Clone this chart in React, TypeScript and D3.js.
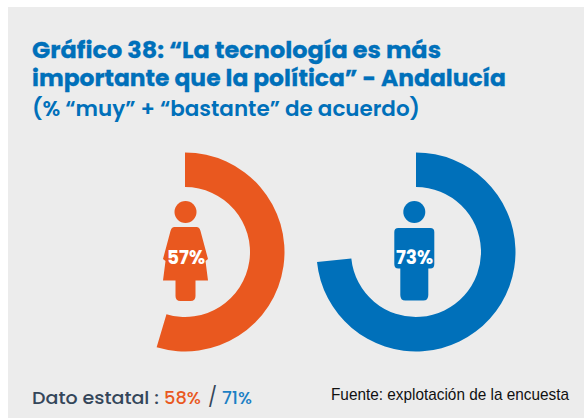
import React from "react";
import * as d3 from "d3";

const titleLines = ["Gráfico 38: “La tecnología es más", "importante que la política” - Andalucía"];
const titleWidths = [409, 474];
const subtitle = "(% “muy” + “bastante” de acuerdo)";
const labels = ["57%", "73%"];
const labelX = [186, 414.5];
const sweeps = [54.6, 73.4];
const colors = ["#E9581F", "#0070BA"];
const centers = [185, 416];
const stateValues = ["58%", "71%"];
const source = "Fuente: explotación de la encuesta";

const W = 584, H = 418;
const pct = d3.scaleLinear().domain([0, 100]).range([0, 2 * Math.PI]);
const arcGen = d3.arc<number>().innerRadius(65).outerRadius(99.5).startAngle(0).endAngle((d) => pct(d));
const FONT = "Poppins, Inter, 'Open Sans', sans-serif";

function Woman({ cx, fill }: { cx: number; fill: string }) {
  return (
    <g transform={`translate(${cx},0)`} fill={fill}>
      <circle cx={0} cy={212} r={11} />
      <path d="M-11,227 H11 Q14,227 15,231 L22.5,259 L20,261 L22.5,280.5 H10 V296 Q10,301 5,301 H-5 Q-10,301 -10,296 V280.5 H-22.5 L-20,261 L-22.5,259 L-15,231 Q-14,227 -11,227 Z" />
    </g>
  );
}

function Man({ cx, fill }: { cx: number; fill: string }) {
  return (
    <g transform={`translate(${cx},0)`} fill={fill}>
      <circle cx={0} cy={212} r={11} />
      <path d="M-16,228 H16 Q20,228 20,232 V264 Q20,268.5 16,268.5 H14 V295 Q14,300.5 9,300.5 H-9 Q-14,300.5 -14,295 V268.5 H-16 Q-20,268.5 -20,264 V232 Q-20,228 -16,228 Z" />
    </g>
  );
}

export default function App() {
  return (
    <svg width={W} height={H} style={{ position: "absolute", left: 0, top: 0 }}>
      <rect x={8} y={7} width={W - 8} height={H - 7} fill="#ECECEC" />
      <g fill="#0070BA" fontFamily={FONT} fontWeight={700} fontSize={23.5} stroke="#0070BA" strokeWidth={0.3}>
        {titleLines.map((t, i) => (
          <text key={i} x={32} y={58 + i * 28} textLength={titleWidths[i]} lengthAdjust="spacingAndGlyphs">{t}</text>
        ))}
      </g>
      <text x={32} y={116} fill="#0070BA" fontFamily={FONT} fontWeight={600} fontSize={21} textLength={388} lengthAdjust="spacingAndGlyphs">{subtitle}</text>
      {centers.map((cx, i) => (
        <path key={i} d={arcGen(sweeps[i]) as string} transform={`translate(${cx},252)`} fill={colors[i]} />
      ))}
      <Woman cx={185.5} fill={colors[0]} />
      <Man cx={414.3} fill={colors[1]} />
      {labels.map((l, i) => (
        <text key={i} x={labelX[i]} y={264} textAnchor="middle" fill="#fff" fontFamily={FONT} fontWeight={700} fontSize={18.5}>{l}</text>
      ))}
      <g fontFamily={FONT} fontSize={18}>
        <text x={32} y={404} fill="#34465A" fontWeight={500} textLength={127} lengthAdjust="spacingAndGlyphs">Dato estatal :</text>
        <text x={164} y={404} fill={colors[0]} fontWeight={500} textLength={37} lengthAdjust="spacingAndGlyphs">{stateValues[0]}</text>
        <text x={208} y={404} fill="#34465A" fontWeight={400} fontSize={19}>/</text>
        <text x={222} y={404} fill="#1B7FC4" fontWeight={500} textLength={30} lengthAdjust="spacingAndGlyphs">{stateValues[1]}</text>
      </g>
      <text x={331} y={400} fontFamily="'Liberation Sans', Arial, sans-serif" fontSize={17} textLength={238} lengthAdjust="spacingAndGlyphs" fill="#111">{source}</text>
    </svg>
  );
}
